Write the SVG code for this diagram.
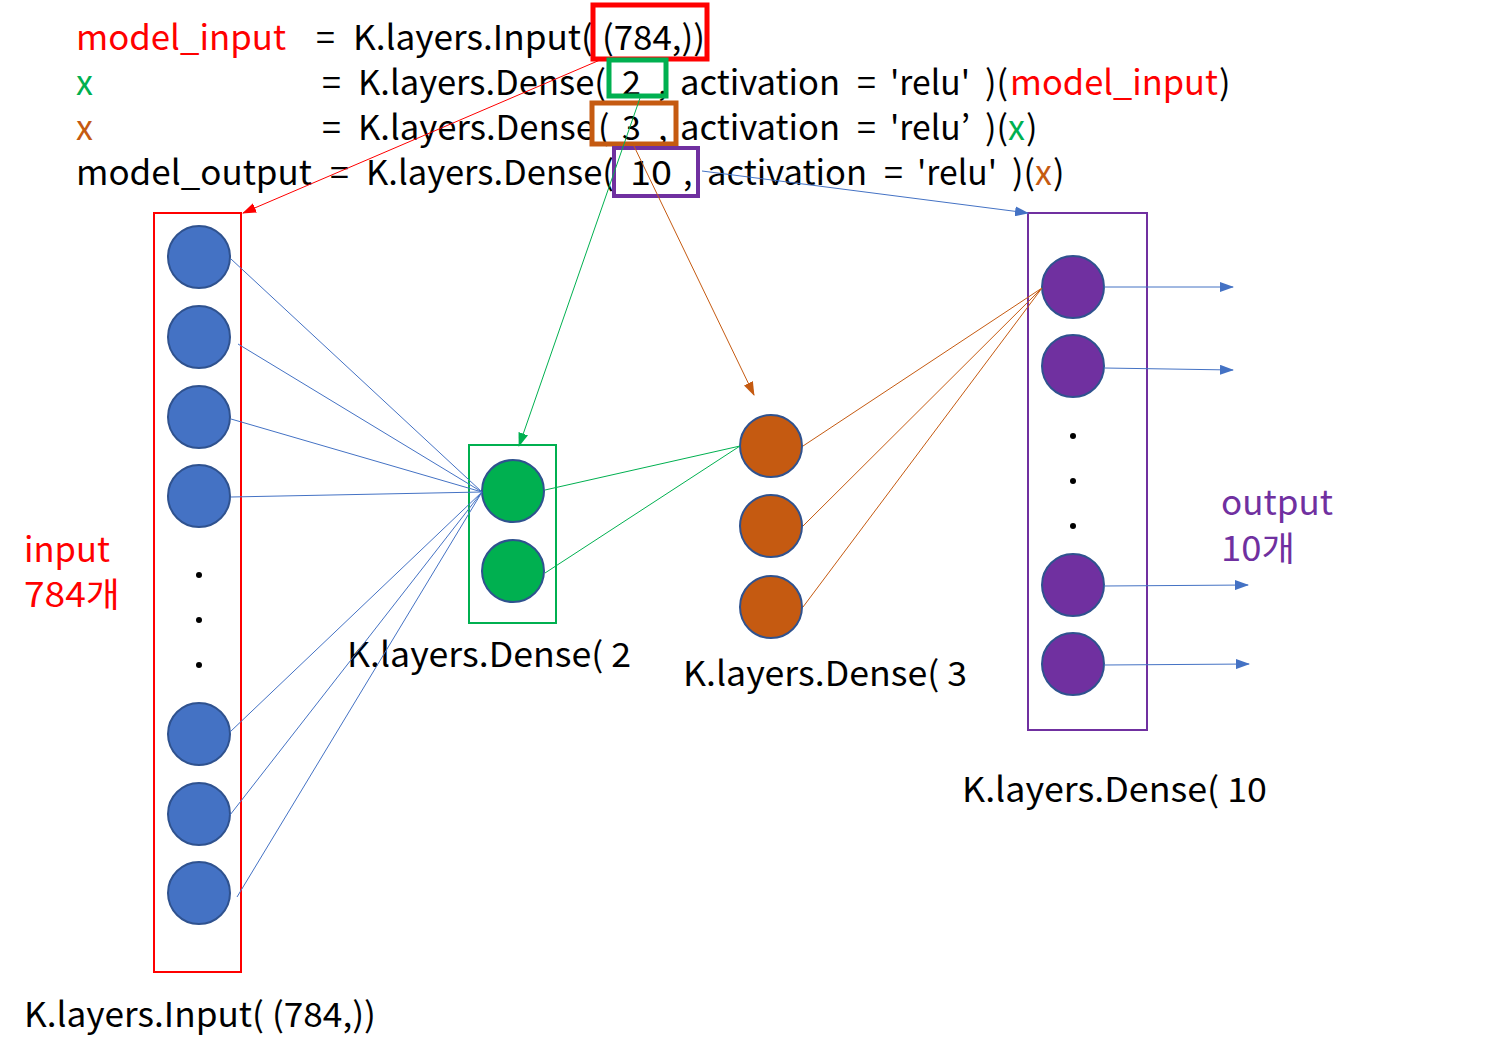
<svg xmlns="http://www.w3.org/2000/svg" width="1508" height="1058" viewBox="0 0 1508 1058">
<style>
text{font-family:"Noto Sans CJK KR","Noto Sans",sans-serif;font-size:34px;fill:#000}
.r{fill:#FF0000}.g{fill:#00B050}.o{fill:#C55A11}.p{fill:#7030A0}
.nb{fill:#4472C4;stroke:#2F528F;stroke-width:2}
.ng{fill:#00B050;stroke:#2F528F;stroke-width:2}
.no{fill:#C55A11;stroke:#2F528F;stroke-width:2}
.np{fill:#7030A0;stroke:#2F528F;stroke-width:2}
.dot{fill:#000}
.lb{stroke:#4472C4;stroke-width:1;fill:none}
.lg{stroke:#00B050;stroke-width:1;fill:none}
.lo{stroke:#C55A11;stroke-width:1;fill:none}
.lr{stroke:#FF0000;stroke-width:1;fill:none}
</style>
<defs>
<marker id="ab" markerWidth="14" markerHeight="10" refX="13" refY="5" orient="auto" markerUnits="userSpaceOnUse"><path d="M0,0L14,5L0,10Z" fill="#4472C4"/></marker>
<marker id="ag" markerWidth="14" markerHeight="10" refX="13" refY="5" orient="auto" markerUnits="userSpaceOnUse"><path d="M0,0L14,5L0,10Z" fill="#00B050"/></marker>
<marker id="ao" markerWidth="14" markerHeight="10" refX="13" refY="5" orient="auto" markerUnits="userSpaceOnUse"><path d="M0,0L14,5L0,10Z" fill="#C55A11"/></marker>
<marker id="ar" markerWidth="14" markerHeight="10" refX="13" refY="5" orient="auto" markerUnits="userSpaceOnUse"><path d="M0,0L14,5L0,10Z" fill="#FF0000"/></marker>
</defs>
<rect width="1508" height="1058" fill="#fff"/>

<g id="code">
<text x="76" y="50" class="r" textLength="210" lengthAdjust="spacingAndGlyphs">model_input</text>
<text x="316" y="50">=</text>
<text x="353" y="50" textLength="240" lengthAdjust="spacingAndGlyphs">K.layers.Input(</text>
<text x="602" y="50" textLength="103" lengthAdjust="spacingAndGlyphs">(784,))</text>

<text x="76" y="95" class="g">x</text>
<text x="322" y="95">=</text>
<text x="358" y="95" textLength="248" lengthAdjust="spacingAndGlyphs">K.layers.Dense(</text>
<text x="622" y="95">2</text>
<text x="658" y="95">,</text>
<text x="680" y="95" textLength="160" lengthAdjust="spacingAndGlyphs">activation</text>
<text x="857" y="95">=</text>
<text x="890" y="95" textLength="80" lengthAdjust="spacingAndGlyphs">'relu'</text>
<text x="985" y="95">)(</text>
<text x="1010" y="95" class="r" textLength="208" lengthAdjust="spacingAndGlyphs">model_input</text>
<text x="1219" y="95">)</text>

<text x="76" y="140" class="o">x</text>
<text x="322" y="140">=</text>
<text x="358" y="140" textLength="237" lengthAdjust="spacingAndGlyphs">K.layers.Dense</text>
<text x="598" y="140">(</text>
<text x="622" y="140">3</text>
<text x="658" y="140">,</text>
<text x="680" y="140" textLength="160" lengthAdjust="spacingAndGlyphs">activation</text>
<text x="857" y="140">=</text>
<text x="890" y="140" textLength="80" lengthAdjust="spacingAndGlyphs">'relu’</text>
<text x="985" y="140">)(</text>
<text x="1008" y="140" class="g">x</text>
<text x="1026" y="140">)</text>

<text x="76" y="185" textLength="236" lengthAdjust="spacingAndGlyphs">model_output</text>
<text x="330" y="185">=</text>
<text x="366" y="185" textLength="248" lengthAdjust="spacingAndGlyphs">K.layers.Dense(</text>
<text x="630" y="185" textLength="42" lengthAdjust="spacingAndGlyphs">10</text>
<text x="683" y="185">,</text>
<text x="707" y="185" textLength="160" lengthAdjust="spacingAndGlyphs">activation</text>
<text x="884" y="185">=</text>
<text x="917" y="185" textLength="80" lengthAdjust="spacingAndGlyphs">'relu'</text>
<text x="1012" y="185">)(</text>
<text x="1035" y="185" class="o">x</text>
<text x="1053" y="185">)</text>

<rect x="593" y="5" width="114" height="54" fill="none" stroke="#FF0000" stroke-width="5"/>
<rect x="609" y="60" width="57" height="36" fill="none" stroke="#00B050" stroke-width="5"/>
<rect x="592" y="103" width="84" height="41" fill="none" stroke="#C55A11" stroke-width="5"/>
<rect x="614" y="148" width="84" height="48" fill="none" stroke="#7030A0" stroke-width="4"/>
</g>

<g id="input-layer">
<rect x="154" y="213" width="87" height="759" fill="none" stroke="#FF0000" stroke-width="2"/>
<circle class="nb" cx="199" cy="257" r="31"/>
<circle class="nb" cx="199" cy="337" r="31"/>
<circle class="nb" cx="199" cy="417" r="31"/>
<circle class="nb" cx="199" cy="496" r="31"/>
<circle class="dot" cx="199" cy="575" r="3"/>
<circle class="dot" cx="199" cy="620" r="3"/>
<circle class="dot" cx="199" cy="665" r="3"/>
<circle class="nb" cx="199" cy="734" r="31"/>
<circle class="nb" cx="199" cy="814" r="31"/>
<circle class="nb" cx="199" cy="893" r="31"/>
</g>

<g id="dense2">
<rect x="469" y="445" width="87" height="178" fill="none" stroke="#00B050" stroke-width="2"/>
<circle class="ng" cx="513" cy="491" r="31"/>
<circle class="ng" cx="513" cy="571" r="31"/>
</g>

<g id="dense3">
<circle class="no" cx="771" cy="446" r="31"/>
<circle class="no" cx="771" cy="526" r="31"/>
<circle class="no" cx="771" cy="607" r="31"/>
</g>

<g id="dense10">
<rect x="1028" y="213" width="119" height="517" fill="none" stroke="#7030A0" stroke-width="2"/>
<circle class="np" cx="1073" cy="287" r="31"/>
<circle class="np" cx="1073" cy="366" r="31"/>
<circle class="dot" cx="1073" cy="436" r="3"/>
<circle class="dot" cx="1073" cy="481" r="3"/>
<circle class="dot" cx="1073" cy="526" r="3"/>
<circle class="np" cx="1073" cy="585" r="31"/>
<circle class="np" cx="1073" cy="664" r="31"/>
</g>

<g id="labels">
<text x="24" y="562" class="r" textLength="86" lengthAdjust="spacingAndGlyphs">input</text>
<text x="24" y="607" class="r" textLength="96" lengthAdjust="spacingAndGlyphs">784개</text>
<text x="1221" y="515" class="p" textLength="112" lengthAdjust="spacingAndGlyphs">output</text>
<text x="1221" y="561" class="p" textLength="74" lengthAdjust="spacingAndGlyphs">10개</text>
<text x="347" y="667" textLength="284" lengthAdjust="spacingAndGlyphs">K.layers.Dense( 2</text>
<text x="683" y="686" textLength="284" lengthAdjust="spacingAndGlyphs">K.layers.Dense( 3</text>
<text x="962" y="802" textLength="305" lengthAdjust="spacingAndGlyphs">K.layers.Dense( 10</text>
<text x="24" y="1027" textLength="352" lengthAdjust="spacingAndGlyphs">K.layers.Input( (784,))</text>
</g>

<g id="connectors">
<line class="lb" x1="231" y1="259" x2="482" y2="492"/>
<line class="lb" x1="238" y1="344" x2="482" y2="492"/>
<line class="lb" x1="231" y1="419" x2="482" y2="492"/>
<line class="lb" x1="231" y1="497" x2="482" y2="492"/>
<line class="lb" x1="230" y1="732" x2="482" y2="492"/>
<line class="lb" x1="230" y1="815" x2="482" y2="492"/>
<line class="lb" x1="237" y1="897" x2="482" y2="492"/>
<line class="lg" x1="545" y1="490" x2="740" y2="446"/>
<line class="lg" x1="545" y1="573" x2="740" y2="446"/>
<line class="lo" x1="803" y1="446" x2="1042" y2="288"/>
<line class="lo" x1="803" y1="526" x2="1042" y2="288"/>
<line class="lo" x1="803" y1="607" x2="1042" y2="288"/>
<line class="lb" x1="1104" y1="287" x2="1233" y2="287" marker-end="url(#ab)"/>
<line class="lb" x1="1104" y1="368" x2="1233" y2="370" marker-end="url(#ab)"/>
<line class="lb" x1="1104" y1="586" x2="1248" y2="585" marker-end="url(#ab)"/>
<line class="lb" x1="1104" y1="665" x2="1249" y2="664" marker-end="url(#ab)"/>
<line class="lr" x1="600" y1="60" x2="243" y2="213" marker-end="url(#ar)"/>
<line class="lg" x1="640" y1="98" x2="519" y2="446" marker-end="url(#ag)"/>
<line class="lo" x1="632" y1="142" x2="754" y2="395" marker-end="url(#ao)"/>
<line class="lb" x1="702" y1="171" x2="1028" y2="213" marker-end="url(#ab)"/>
</g>
</svg>
